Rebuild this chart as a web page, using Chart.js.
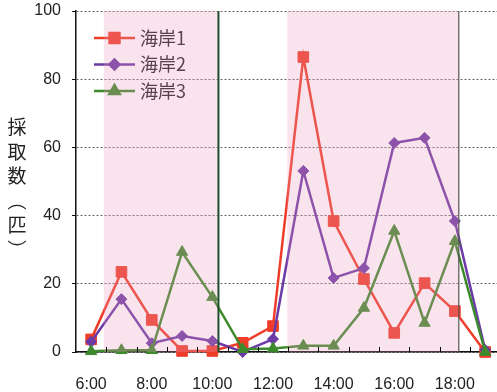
<!DOCTYPE html>
<html>
<head>
<meta charset="utf-8">
<script src="https://cdn.jsdelivr.net/npm/chart.js@4/dist/chart.umd.min.js"></script>
<style>
html, body { margin: 0; padding: 0; background: #fff; overflow: hidden; }
#contenedor { width: 497px; height: 392px; position: relative; }
</style>
</head>
<body>
<div id="contenedor"><canvas id="grafico"></canvas></div>
<script>
// horas de muestreo
const horas = ['6:00', '7:00', '8:00', '9:00', '10:00', '11:00', '12:00', '13:00', '14:00', '15:00', '16:00', '17:00', '18:00', '19:00'];
const etiquetasX = ['6:00', '8:00', '10:00', '12:00', '14:00', '16:00', '18:00'];
const etiquetasY = [0, 20, 40, 60, 80, 100];

// 採取数（匹）
const nombresSeries = ['海岸1', '海岸2', '海岸3'];
const kaigan1 = [3.7, 23.5, 9.4, 0.3, 0.3, 2.7, 7.6, 86.5, 38.4, 21.4, 5.6, 20.2, 12.0, 0];
const kaigan2 = [3.0, 15.5, 2.6, 4.7, 3.2, 0, 3.8, 53.1, 21.7, 24.6, 61.3, 62.8, 38.4, 0.6];
const kaigan3 = [0.2, 0.5, 0.5, 29.3, 16.1, 0.8, 1.0, 1.8, 1.8, 12.9, 35.5, 8.5, 32.5, 0];

// franjas sombreadas (en horas)
const franjas = [[6.42, 10.2], [12.47, 18.13]];

const colores = ['#ef3d29', '#6b3aa6', '#3d8a2c'];
const formas = ['rect', 'rectRot', 'triangle'];
const radios = [7.5, 5.5, 6.5];

const hora = h => parseInt(h);
const aPuntos = vals => vals.map((v, i) => ({ x: hora(horas[i]), y: v }));

const fuenteNum = "'Liberation Sans', Arial, sans-serif";
const fuenteJp = "'Noto Sans CJK JP', sans-serif";

const plugFondo = {
    id: 'fondo',
    afterDatasetsDraw(chart) {
        const { ctx, chartArea: area, scales: { x } } = chart;
        ctx.save();
        // leyenda (queda debajo de la franja)
        nombresSeries.forEach((nombre, i) => {
            const y = 38 + i * 26.5;
            ctx.strokeStyle = colores[i];
            ctx.lineWidth = 2.5;
            ctx.beginPath();
            ctx.moveTo(94, y);
            ctx.lineTo(135, y);
            ctx.stroke();
            ctx.fillStyle = colores[i];
            Chart.helpers.drawPoint(ctx, { pointStyle: formas[i], radius: radios[i] - 0.5, borderWidth: 1 }, 114.5, y);
            ctx.fillStyle = '#222';
            ctx.font = '18px ' + fuenteJp;
            ctx.textBaseline = 'middle';
            ctx.fillText(nombre, 140, y);
        });
        // franjas rosadas
        ctx.fillStyle = 'rgba(233, 151, 185, 0.27)';
        franjas.forEach(([a, b]) => {
            const x1 = x.getPixelForValue(a);
            const x2 = x.getPixelForValue(b);
            ctx.fillRect(x1, area.top, x2 - x1, area.bottom - area.top);
        });
        // lineas verticales
        ctx.lineWidth = 2;
        ctx.strokeStyle = '#1d4f2c';
        let px = x.getPixelForValue(franjas[0][1]);
        ctx.beginPath(); ctx.moveTo(px, area.top); ctx.lineTo(px, area.bottom); ctx.stroke();
        ctx.lineWidth = 1.2;
        ctx.strokeStyle = '#555';
        px = x.getPixelForValue(franjas[1][1]);
        ctx.beginPath(); ctx.moveTo(px, area.top); ctx.lineTo(px, area.bottom); ctx.stroke();
        // marcas del eje x entre horas
        ctx.strokeStyle = '#000';
        ctx.lineWidth = 1;
        horas.forEach(h => {
            const xm = Math.round(x.getPixelForValue(hora(h) + 0.5)) + 0.5;
            if (xm > area.right) return;
            ctx.beginPath(); ctx.moveTo(xm, area.bottom); ctx.lineTo(xm, area.bottom - 5); ctx.stroke();
        });
        ctx.restore();
    },
    afterDraw(chart) {
        const { ctx } = chart;
        ctx.save();
        ctx.fillStyle = '#222';
        ctx.font = '19px ' + fuenteJp;
        ctx.textAlign = 'center';
        ctx.textBaseline = 'middle';
        const letras = ['採', '取', '数', '︵', '匹', '︶'];
        letras.forEach((c, i) => {
            ctx.fillText(c, 17, 127 + i * 24.5);
        });
        ctx.restore();
    }
};

const series = [kaigan1, kaigan2, kaigan3];

new Chart(document.getElementById('grafico'), {
    type: 'line',
    data: {
        datasets: series.map((vals, i) => ({
            label: nombresSeries[i],
            data: aPuntos(vals),
            borderColor: colores[i],
            backgroundColor: colores[i],
            borderWidth: 2.5,
            pointStyle: formas[i],
            pointRadius: radios[i],
            pointBorderWidth: 1,
            tension: 0,
            clip: false,
            order: 3 - i
        }))
    },
    options: {
        responsive: true,
        maintainAspectRatio: false,
        animation: false,
        layout: { autoPadding: false, padding: { top: 11, left: 0, right: 0, bottom: 0 } },
        plugins: { legend: { display: false }, tooltip: { enabled: false } },
        scales: {
            x: {
                type: 'linear',
                min: 5.5,
                max: 19.39,
                afterBuildTicks: s => { s.ticks = etiquetasX.map(t => ({ value: hora(t) })); },
                afterFit: s => { s.height = 40; s.paddingLeft = 0; s.paddingRight = 0; },
                grid: { display: false },
                border: { display: true, color: '#111', width: 1.5 },
                ticks: {
                    color: '#222',
                    font: { family: fuenteNum, size: 16 },
                    padding: 15,
                    maxRotation: 0,
                    callback: v => etiquetasX.find(t => hora(t) === v) || ''
                }
            },
            y: {
                min: 0,
                max: 100,
                afterBuildTicks: s => { s.ticks = etiquetasY.map(v => ({ value: v })); },
                afterFit: s => { s.width = 76; s.paddingTop = 0; s.paddingBottom = 0; },
                grid: { color: '#666', lineWidth: 1, tickLength: 4, tickColor: '#111', tickBorderDash: [] },
                border: { display: true, color: '#111', width: 1.5, dash: [2, 2] },
                ticks: {
                    color: '#222',
                    font: { family: fuenteNum, size: 16 },
                    padding: 11
                }
            }
        }
    },
    plugins: [plugFondo]
});
</script>
</body>
</html>
